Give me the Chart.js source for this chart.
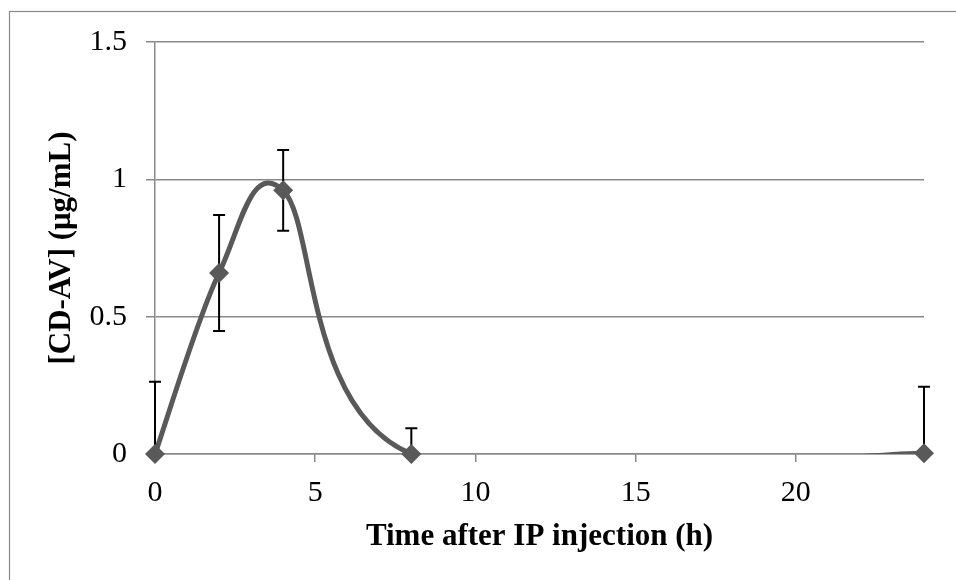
<!DOCTYPE html>
<html>
<head>
<meta charset="utf-8">
<title>CD-AV plasma concentration</title>
<script src="https://cdn.jsdelivr.net/npm/chart.js@4/dist/chart.umd.min.js"></script>
<style>
	html, body { margin: 0; padding: 0; background: #fff; }
	#wrap { width: 956px; height: 580px; }
</style>
</head>
<body>
<div id="wrap"><canvas id="myChart" width="956" height="580"></canvas></div>
<script>
var hours = [0, 2, 4, 8, 24];
var conc = [0, 0.659, 0.96, 0, 0.003];
var sd = [0.263, 0.211, 0.147, 0.094, 0.242];

var serif = "'Liberation Serif', 'Times New Roman', serif";
var gray = '#898989';
var lineGray = '#595959';

/* outer chart frame, runs off the page on the right and bottom */
var framePlugin = {
	id: 'frame',
	beforeDraw: function(chart) {
		var ctx = chart.ctx;
		ctx.save();
		ctx.fillStyle = '#fff';
		ctx.fillRect(0, 0, chart.width, chart.height);
		ctx.strokeStyle = gray;
		ctx.lineWidth = 1.2;
		ctx.strokeRect(9.5, 11.5, chart.width + 20, chart.height + 20);
		ctx.restore();
	}
};

/*
	Spreadsheet style smoothing: each control point sits 1/6 of the
	neighbour chord away from its point (plain Catmull-Rom), instead of
	the distance weighted version Chart.js uses.
*/
var smoothCurve = {
	id: 'smoothCurve',
	beforeDatasetDraw: function(chart, args) {
		if (args.index !== 0)
			return;
		var meta = args.meta;
		var line = meta.dataset;
		line.updateControlPoints(chart.chartArea, meta.indexAxis);
		var pts = meta.data;
		for (var i = 0; i < pts.length; i++) {
			var p = pts[i];
			var prev = pts[i - 1] || p;
			var next = pts[i + 1] || p;
			var dx = (next.x - prev.x) / 6;
			var dy = (next.y - prev.y) / 6;
			p.cp1x = p.x - dx;
			p.cp1y = p.y - dy;
			p.cp2x = p.x + dx;
			p.cp2y = p.y + dy;
		}
	}
};

/* vertical error bars, clipped to the plot area */
var errorBars = {
	id: 'errorBars',
	beforeDatasetsDraw: function(chart) {
		var ctx = chart.ctx;
		var xs = chart.scales.x;
		var ys = chart.scales.y;
		var area = chart.chartArea;
		ctx.save();
		ctx.beginPath();
		ctx.rect(area.left - 10, area.top, area.right - area.left + 20, area.bottom - area.top);
		ctx.clip();
		ctx.strokeStyle = '#000';
		ctx.lineWidth = 2;
		for (var i = 0; i < hours.length; i++) {
			var x = xs.getPixelForValue(hours[i]);
			var top = ys.getPixelForValue(conc[i] + sd[i]);
			var bot = ys.getPixelForValue(conc[i] - sd[i]);
			ctx.beginPath();
			ctx.moveTo(x, top);
			ctx.lineTo(x, bot);
			ctx.moveTo(x - 6, top);
			ctx.lineTo(x + 6, top);
			ctx.moveTo(x - 6, bot);
			ctx.lineTo(x + 6, bot);
			ctx.stroke();
		}
		ctx.restore();
	}
};

var points = hours.map(function(h, i) { return { x: h, y: conc[i] }; });

var ctx = document.getElementById('myChart').getContext('2d');
var graph = new Chart(ctx, {
	type: 'line',
	data: {
		datasets: [{
			label: 'curve',
			data: points,
			borderColor: lineGray,
			borderWidth: 5,
			tension: 0.5,
			capBezierPoints: false,
			pointRadius: 0,
			fill: false
		}, {
			label: 'points',
			data: points,
			showLine: false,
			pointStyle: 'rectRot',
			pointRadius: 10,
			pointBackgroundColor: lineGray,
			pointBorderColor: lineGray,
			pointBorderWidth: 0,
			clip: false
		}]
	},
	options: {
		responsive: false,
		animation: false,
		events: [],
		layout: { padding: { top: 42, right: 32, left: 0, bottom: 0 } },
		plugins: {
			legend: { display: false },
			tooltip: { enabled: false }
		},
		scales: {
			x: {
				type: 'linear',
				min: 0,
				max: 24,
				afterBuildTicks: function(scale) {
					scale.ticks = scale.ticks.filter(function(t) { return t.value % 5 === 0; });
				},
				afterFit: function(scale) { scale.height = 126; },
				ticks: {
					stepSize: 5,
					padding: 13,
					color: '#000',
					maxRotation: 0,
					font: { family: serif, size: 30 }
				},
				grid: {
					drawOnChartArea: false,
					drawTicks: true,
					tickLength: 8,
					color: gray,
					lineWidth: 1.5
				},
				border: { color: gray, width: 1.5 },
				title: {
					display: true,
					text: 'Time after IP injection (h)',
					color: '#000',
					font: { family: serif, size: 31, weight: 'bold' },
					padding: { top: 0, bottom: 24 }
				}
			},
			y: {
				min: 0,
				max: 1.5,
				afterFit: function(scale) { scale.width = 155; },
				ticks: {
					stepSize: 0.5,
					padding: 19,
					color: '#000',
					font: { family: serif, size: 30 },
					callback: function(v) { return String(v); }
				},
				grid: {
					color: gray,
					lineWidth: 1.5,
					tickLength: 9
				},
				border: { color: gray, width: 1.5 },
				title: {
					display: true,
					text: '[CD-AV] (μg/mL)',
					color: '#000',
					font: { family: serif, size: 31, weight: 'bold' },
					padding: { top: 43, bottom: 0 }
				}
			}
		}
	},
	plugins: [framePlugin, smoothCurve, errorBars]
});
</script>
</body>
</html>
